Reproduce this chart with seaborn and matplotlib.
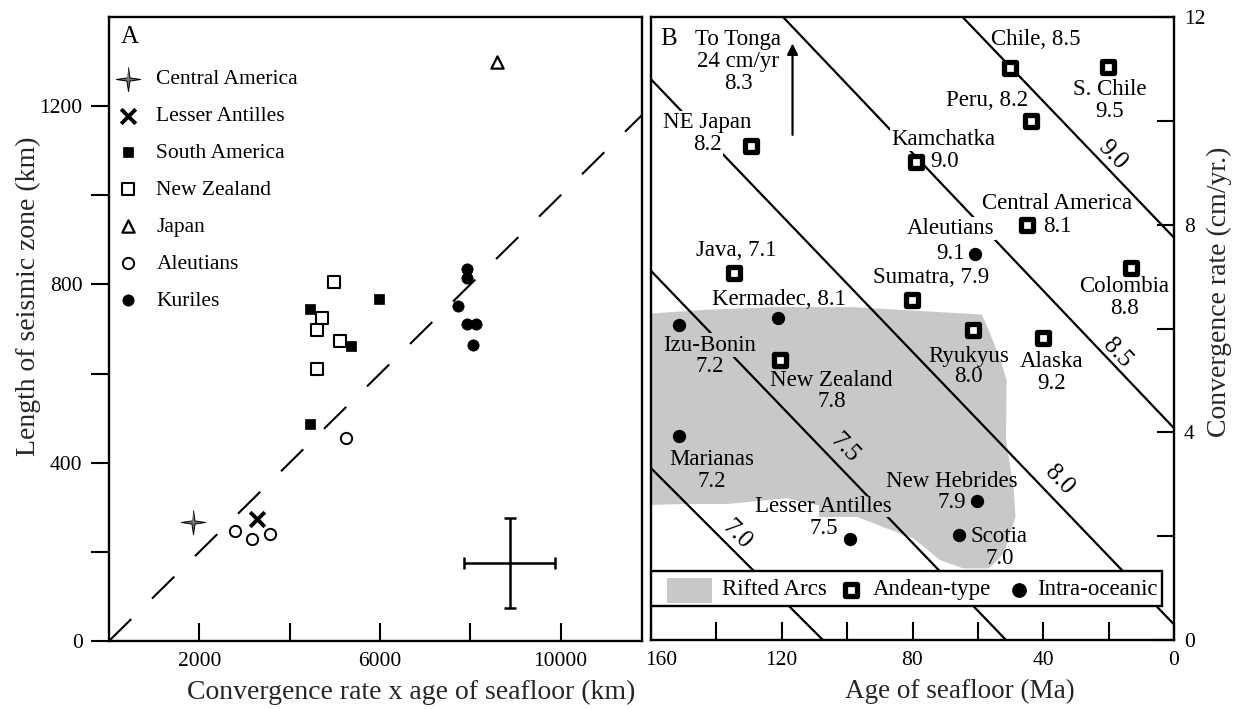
import math
import pandas as pd
import seaborn as sns
import matplotlib.pyplot as plt
from matplotlib.patches import Rectangle
from matplotlib.transforms import ScaledTranslation, IdentityTransform

# ---- panel A: convergence rate x seafloor age (km) vs length of seismic zone (km)
centam_x, centam_y = [1860], [268]
lesant_x, lesant_y = [3270], [274]
soam_x = [4440, 5980, 5350, 4460]
soam_y = [745, 768, 662, 487]
nz_x = [4985, 4720, 4595, 5105, 4595]
nz_y = [805, 725, 698, 672, 611]
japan_x, japan_y = [8580], [1300]
aleut_x = [2800, 3165, 3555, 5240]
aleut_y = [246, 228, 240, 455]
kuril_x = [7920, 7920, 7720, 7920, 8135, 8055]
kuril_y = [835, 815, 751, 712, 712, 665]
trend_x = [0, 11800]
trend_y = [0, 1180]
err_x, err_y = 8870, 175
err_dx, err_dy = 1000, 100

# ---- panel B: age of seafloor (Ma) vs convergence rate (cm/yr)
andean_age = [50.3, 20.2, 43.9, 129.4, 78.9, 45.1, 134.6, 80.3, 13.3, 61.5, 40.1, 120.5]
andean_rate = [11.02, 11.04, 9.99, 9.52, 9.21, 7.99, 7.06, 6.55, 7.16, 5.97, 5.81, 5.39]
oceanic_age = [60.9, 121.3, 151.3, 151.3, 99.2, 60.2, 65.8]
oceanic_rate = [7.44, 6.21, 6.07, 3.92, 1.95, 2.67, 2.02]

# magnitude contours (end points)
contour_mag = ['7.0', '7.5', '8.0', '8.5', '9.0']
contour_age = [[160, 107.4], [160, 51.4], [160, 0], [119.6, 0], [64.7, 0]]
contour_rate = [[3.31, 0], [7.11, 0], [10.8, 0.3], [12, 4.08], [12, 7.75]]
contour_lab_age = [133.8, 100.7, 35.1, 17.3, 18.8]
contour_lab_rate = [2.02, 3.69, 3.08, 5.52, 9.34]

# outline of the rifted-arc field
rift_age = [160, 143, 122.6, 98.1, 58.8, 56.3, 52.7, 51.2, 51.4, 49.1, 48.5, 52.0,
            56.6, 64.5, 71.6, 79.8, 87.9, 102.2, 118.5, 136.8, 150.1, 160]
rift_rate = [6.29, 6.36, 6.41, 6.41, 6.27, 5.91, 5.33, 5.0, 3.85, 2.95, 2.37, 1.67,
             1.38, 1.38, 1.54, 1.96, 2.15, 2.5, 2.73, 2.62, 2.62, 2.6]

# subduction zone labels
site_text = ['To Tonga', '24 cm/yr', '8.3', 'NE Japan', '8.2', 'Chile, 8.5', 'S. Chile', '9.5',
             'Peru, 8.2', 'Kamchatka', '9.0', 'Central America', '8.1', 'Aleutians', '9.1',
             'Java, 7.1', 'Sumatra, 7.9', 'Kermadec, 8.1', 'Colombia', '8.8', 'Izu-Bonin', '7.2',
             'New Zealand', '7.8', 'Ryukyus', '8.0', 'Alaska', '9.2', 'Marianas', '7.2',
             'New Hebrides', '7.9', 'Lesser Antilles', '7.5', 'Scotia', '7.0']
site_age = [133.4, 133.4, 133.4, 142.7, 142.7, 42.3, 19.6, 19.6,
            57.2, 70.5, 70.3, 35.8, 35.8, 68.3, 68.5,
            133.8, 74.3, 120.8, 15.2, 15.2, 142.0, 142.0,
            104.8, 104.8, 62.8, 62.8, 37.5, 37.5, 141.5, 141.5,
            67.9, 67.9, 107.2, 107.2, 53.5, 53.3]
site_rate = [11.57, 11.14, 10.72, 9.97, 9.54, 11.57, 10.6, 10.18,
             10.39, 9.64, 9.21, 8.4, 7.97, 7.92, 7.45,
             7.5, 6.98, 6.56, 6.81, 6.38, 5.68, 5.26,
             5.0, 4.59, 5.47, 5.07, 5.36, 4.94, 3.47, 3.05,
             3.06, 2.64, 2.57, 2.15, 1.99, 1.57]
tonga_age = 116.7
tonga_rate = [9.73, 11.49]

GRAY = '#c8c8c8'
sns.set_theme(style='ticks')
plt.rcParams['font.family'] = ['Liberation Serif', 'DejaVu Serif']
plt.rcParams['axes.linewidth'] = 1.7
plt.rcParams['text.color'] = 'black'

fig = plt.figure(figsize=(12.34, 7.09), dpi=100)
ax1 = fig.add_axes([109 / 1234, 68 / 709, 533 / 1234, 624 / 709])
ax2 = fig.add_axes([651 / 1234, 69 / 709, 523 / 1234, 623 / 709])

# ---------------- panel A ----------------
star = [(0, 1), (0.13, 0.13), (1, 0), (0.13, -0.13), (0, -1), (-0.13, -0.13), (-1, 0), (-0.13, 0.13)]
groups = [
    ('Central America', centam_x, centam_y,
     dict(marker=star, s=300, facecolor='#707070', edgecolor='black', linewidth=0.7)),
    ('Lesser Antilles', lesant_x, lesant_y, dict(marker='x', s=110, color='black', linewidth=2.8)),
    ('South America', soam_x, soam_y, dict(marker='s', s=55, color='black', edgecolor='black', linewidth=0.5)),
    ('New Zealand', nz_x, nz_y, dict(marker='s', s=74, facecolor='white', edgecolor='black', linewidth=1.5)),
    ('Japan', japan_x, japan_y, dict(marker='^', s=78, facecolor='white', edgecolor='black', linewidth=1.6)),
    ('Aleutians', aleut_x, aleut_y, dict(marker='o', s=66, facecolor='white', edgecolor='black', linewidth=1.4)),
    ('Kuriles', kuril_x, kuril_y, dict(marker='o', s=66, color='black', edgecolor='black', linewidth=0.5)),
]

sns.lineplot(x=trend_x, y=trend_y, color='black', linewidth=1.5, linestyle=(0, (15, 14)), ax=ax1)
for name, xs, ys, kw in groups:
    sns.scatterplot(x=xs, y=ys, label=name, ax=ax1, zorder=3, **kw)
ax1.errorbar(err_x, err_y, xerr=err_dx, yerr=err_dy, color='black', lw=1.8,
             capsize=4, capthick=1.8, label='_nolegend_')

ax1.set_xlim(0, 11800)
ax1.set_ylim(0, 1400)
ax1.set_xticks([2000, 4000, 6000, 8000, 10000])
ax1.set_xticklabels(['2000', '', '6000', '', '10000'])
ax1.set_yticks([0, 200, 400, 600, 800, 1000, 1200])
ax1.set_yticklabels(['0', '', '400', '', '800', '', '1200'])
ax1.tick_params(axis='x', direction='in', length=13, width=1.5, pad=8, labelsize=15.5, colors='black')
ax1.tick_params(axis='y', direction='out', length=13, width=1.5, pad=6, labelsize=15.5, colors='black')
ax1.set_xlabel('Convergence rate x age of seafloor (km)', fontsize=20)
ax1.set_ylabel('Length of seismic zone (km)', fontsize=20)
ax1.xaxis.set_label_coords(0.567, -0.062)
ax1.yaxis.set_label_coords(-0.128, 0.553)
ax1.text(0.038, 0.968, 'A', transform=ax1.transAxes, fontsize=18, ha='center', va='center')
ax1.legend(loc='upper left', bbox_to_anchor=(0.0, 0.93), frameon=False, fontsize=15.5,
           handlelength=1.0, handletextpad=0.8, labelspacing=0.78, borderaxespad=0,
           scatterpoints=1)

# ---------------- panel B ----------------
ax2.fill(rift_age, rift_rate, color=GRAY, lw=0, zorder=1)

c_df = pd.DataFrame({
    'age': [a for ages in contour_age for a in ages],
    'rate': [r for rates in contour_rate for r in rates],
    'mag': [m for m in contour_mag for _ in range(2)],
})
sns.lineplot(data=c_df, x='age', y='rate', units='mag', estimator=None, sort=False,
             color='black', linewidth=1.6, ax=ax2, zorder=2)

sns.scatterplot(x=andean_age, y=andean_rate, marker='s', s=86, facecolor='white',
                edgecolor='black', linewidth=3.8, ax=ax2, zorder=4)
sns.scatterplot(x=oceanic_age, y=oceanic_rate, marker='o', s=92, color='black',
                edgecolor='black', linewidth=0, ax=ax2, zorder=4)

ax2.set_xlim(160, 0)
ax2.set_ylim(0, 12)
ax2.set_xticks(list(range(160, -1, -20)))
ax2.set_xticklabels([str(v) if v % 40 == 0 else '' for v in range(160, -1, -20)])
ax2.set_yticks(list(range(0, 13, 2)))
ax2.set_yticklabels([str(v) if v % 4 == 0 else '' for v in range(0, 13, 2)])
ax2.yaxis.tick_right()
ax2.yaxis.set_label_position('right')
ax2.tick_params(axis='x', direction='in', length=13, width=1.5, pad=8, labelsize=15.5, colors='black')
ax2.tick_params(axis='y', direction='in', length=12, width=1.5, pad=7, labelsize=15.5, colors='black')
ax2.set_xlabel('Age of seafloor (Ma)', fontsize=19.5)
ax2.set_ylabel('Convergence rate (cm/yr.)', fontsize=20)
ax2.xaxis.set_label_coords(0.591, -0.062)
ax2.yaxis.set_label_coords(1.063, 0.559)
# the "160" label sits a little to the right of its tick
first = ax2.get_xticklabels()[0]
first.set_transform(first.get_transform() + ScaledTranslation(0.10, 0, fig.dpi_scale_trans))

ax2.text(154.6, 11.58, 'B', fontsize=18, ha='center', va='center')
# labels that interrupt a contour line get a background box; for
# "Lesser Antilles" only the second word sits on a line
white_gap = {'NE Japan', '8.2', 'Kamchatka', 'Aleutians'}
gray_gap = {'Izu-Bonin'}
partial_gap = {'Lesser Antilles': 'Antilles'}
site_artists = {}
for txt, a, r in zip(site_text, site_age, site_rate):
    box = None
    if txt in white_gap:
        box = dict(boxstyle='square,pad=0.05', fc='white', ec='none')
    elif txt in gray_gap:
        box = dict(boxstyle='square,pad=0.05', fc=GRAY, ec='none')
    site_artists[txt] = ax2.text(a, r, txt, fontsize=16.5, ha='center', va='center',
                                 bbox=box, zorder=3)

ax2.annotate('', xy=(tonga_age, tonga_rate[1]), xytext=(tonga_age, tonga_rate[0]),
             arrowprops=dict(arrowstyle='-|>', color='black', lw=1.6, mutation_scale=16,
                             shrinkA=0, shrinkB=0))

for mag, ages, rates, la, lr in zip(contour_mag, contour_age, contour_rate,
                                     contour_lab_age, contour_lab_rate):
    (x0, y0), (x1, y1) = ax2.transData.transform([(ages[0], rates[0]), (ages[1], rates[1])])
    ang = math.degrees(math.atan2(y1 - y0, x1 - x0))
    ax2.text(la, lr, mag, fontsize=18, rotation=ang, rotation_mode='anchor',
             ha='center', va='center', zorder=3)

fig.canvas.draw()
rend = fig.canvas.get_renderer()
for full, part in partial_gap.items():
    bb = site_artists[full].get_window_extent(rend)
    tmp = ax2.text(bb.x1, (bb.y0 + bb.y1) / 2, part, fontsize=16.5, ha='right', va='center',
                   transform=IdentityTransform())
    pb = tmp.get_window_extent(rend)
    tmp.remove()
    ax2.add_patch(Rectangle((pb.x0 - 1, pb.y0), pb.width + 2, pb.height,
                            transform=IdentityTransform(), fc=GRAY, ec='none', zorder=2.5))

# legend box along the bottom of panel B
tr = ax2.transAxes
ax2.add_patch(Rectangle((0, 0.0546), 0.978, 0.0562, transform=tr, fc='white', ec='black',
                        lw=1.7, zorder=6))
ax2.add_patch(Rectangle((0.030, 0.060), 0.086, 0.039, transform=tr, fc=GRAY, ec='none', zorder=7))
ax2.text(0.135, 0.0803, 'Rifted Arcs', transform=tr, fontsize=16.5, ha='left', va='center', zorder=7)
ax2.scatter([0.382], [0.0803], transform=tr, marker='s', s=86, facecolor='white',
            edgecolor='black', linewidth=3.8, zorder=7, clip_on=False)
ax2.text(0.425, 0.0803, 'Andean-type', transform=tr, fontsize=16.5, ha='left', va='center', zorder=7)
ax2.scatter([0.703], [0.0803], transform=tr, marker='o', s=92, color='black', zorder=7,
            clip_on=False)
ax2.text(0.738, 0.0803, 'Intra-oceanic', transform=tr, fontsize=16.5, ha='left', va='center', zorder=7)

for ax in (ax1, ax2):
    for sp in ax.spines.values():
        sp.set_color('black')
        sp.set_linewidth(1.7)

fig.savefig('out.png', dpi=100)
